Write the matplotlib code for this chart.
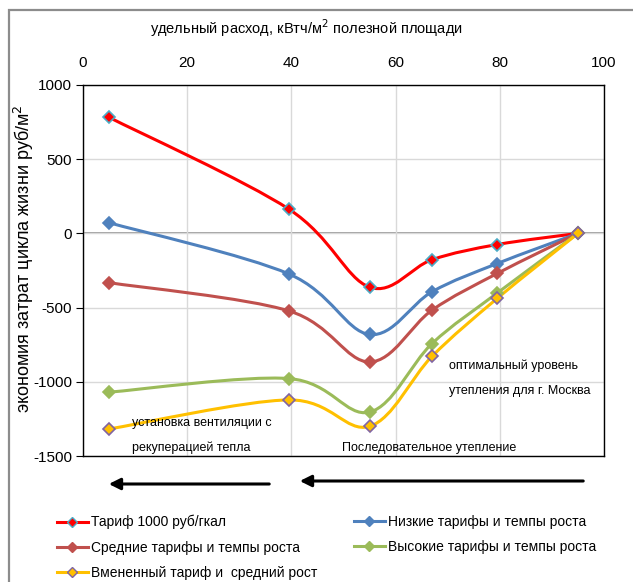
import numpy as np
import matplotlib
matplotlib.use("Agg")
import matplotlib.pyplot as plt
from matplotlib.path import Path
from matplotlib.patches import PathPatch, Rectangle, FancyArrowPatch
from matplotlib.lines import Line2D

plt.rcParams["font.family"] = ["Liberation Sans", "DejaVu Sans"]
plt.rcParams["axes.unicode_minus"] = False

# specific consumption, kWh/m2 of useful floor area
consumption = [5, 39.5, 55, 67, 79.5, 95]

tariff_1000 = [782, 164, -362, -177, -75, 0]
low_tariffs = [72, -273, -681, -393, -203, 0]
mid_tariffs = [-332, -522, -866, -517, -270, 0]
high_tariffs = [-1070, -978, -1204, -742, -402, 0]
imputed_tariff = [-1318, -1122, -1300, -828, -438, 0]

series_labels = [
    "Тариф 1000 руб/гкал",
    "Низкие тарифы и темпы роста",
    "Средние тарифы и темпы роста",
    "Высокие тарифы и темпы роста",
    "Вмененный тариф и  средний рост",
]

x_ticks = [0, 20, 40, 60, 80, 100]
y_ticks = [-1500, -1000, -500, 0, 500, 1000]

STYLES = [
    dict(color="#FF0000", mfc="#FF0000", mec="#4BACC6"),
    dict(color="#4F81BD", mfc="#4F81BD", mec="#4F81BD"),
    dict(color="#C0504D", mfc="#C0504D", mec="#C0504D"),
    dict(color="#9BBB59", mfc="#9BBB59", mec="#9BBB59"),
    dict(color="#FFC000", mfc="#FFC000", mec="#8064A2"),
]


def smooth_path(xs, ys):
    """Bezier path through the points, like a spreadsheet 'smoothed line'."""
    pts = np.column_stack([xs, ys]).astype(float)
    n = len(pts)
    verts = [pts[0]]
    codes = [Path.MOVETO]
    for i in range(n - 1):
        p0 = pts[max(i - 1, 0)]
        p1 = pts[i]
        p2 = pts[i + 1]
        p3 = pts[min(i + 2, n - 1)]
        c1 = p1 + (p2 - p0) / 6.0
        c2 = p2 - (p3 - p1) / 6.0
        verts += [c1, c2, p2]
        codes += [Path.CURVE4] * 3
    return Path(verts, codes)


W, H = 633, 582
fig = plt.figure(figsize=(W / 100, H / 100), dpi=100)
ax = fig.add_axes([83 / W, 1 - 456 / H, (604 - 83) / W, (456 - 85) / H])

# outer chart frame
fig.patches.append(Rectangle((9 / W, -0.05), 1.0, 1 - 10 / H + 0.05,
                             transform=fig.transFigure, fill=False,
                             edgecolor="#8C8C8C", lw=1.6))

all_series = [tariff_1000, low_tariffs, mid_tariffs, high_tariffs, imputed_tariff]
handles = []
for ys, lab, st in zip(all_series, series_labels, STYLES):
    ax.add_patch(PathPatch(smooth_path(consumption, ys), fill=False,
                           edgecolor=st["color"], lw=2.2, zorder=3))
    ax.plot(consumption, ys, linestyle="none", marker="D", markersize=6,
            mfc=st["mfc"], mec=st["mec"], mew=1.2, zorder=4)
    handles.append(Line2D([], [], color=st["color"], lw=2.2, marker="D",
                          markersize=5, mfc=st["mfc"], mec=st["mec"], mew=1.0,
                          label=lab))

ax.set_xlim(0, 100)
ax.set_ylim(-1500, 1000)
ax.set_xticks(x_ticks)
ax.set_yticks(y_ticks)
ax.xaxis.tick_top()
ax.tick_params(axis="x", length=0, pad=11, labelsize=11)
ax.tick_params(axis="y", length=5, pad=3, labelsize=11, direction="out")
ax.grid(True, color="#D9D9D9", lw=1.0, zorder=0)
ax.axhline(0, color="#8C8C8C", lw=1.2, zorder=1)
for sp in ax.spines.values():
    sp.set_color("black")
    sp.set_linewidth(1.0)

fig.text(306 / W, 1 - 28 / H, "удельный расход, кВтч/м$^2$ полезной площади",
         ha="center", va="center", fontsize=10.5)
fig.text(24 / W, 1 - 259 / H, "экономия затрат цикла жизни руб/м$^2$",
         ha="center", va="center", rotation=90, fontsize=13)

# annotations inside the plot
ax.text(70.3, -895, "оптимальный уровень", fontsize=9, va="center")
ax.text(70.3, -1063, "утепления для г. Москва", fontsize=9, va="center")
ax.text(9.4, -1276, "установка вентиляции с", fontsize=9, va="center")
ax.text(9.4, -1444, "рекуперацией тепла", fontsize=9, va="center")
ax.text(49.7, -1444, "Последовательное утепление", fontsize=9, va="center")

# direction arrows under the plot
for x0, x1, yy in [(272, 106, 484), (586, 297, 481)]:
    fig.add_artist(FancyArrowPatch(
        (x0 / W, 1 - yy / H), (x1 / W, 1 - yy / H), transform=fig.transFigure,
        arrowstyle="-|>", mutation_scale=17, lw=2.2, color="black"))

leg_kw = dict(loc="upper left", frameon=False, fontsize=10, handlelength=2.2,
              handletextpad=0.25, labelspacing=0.8, borderpad=0,
              borderaxespad=0)
leg1 = fig.legend([handles[i] for i in (0, 2, 4)],
                  [series_labels[i] for i in (0, 2, 4)],
                  bbox_to_anchor=(57 / W, 1 - 515 / H), **leg_kw)
leg2 = fig.legend([handles[i] for i in (1, 3)],
                  [series_labels[i] for i in (1, 3)],
                  bbox_to_anchor=(354 / W, 1 - 515 / H), **leg_kw)

fig.savefig("out.png", dpi=100)
